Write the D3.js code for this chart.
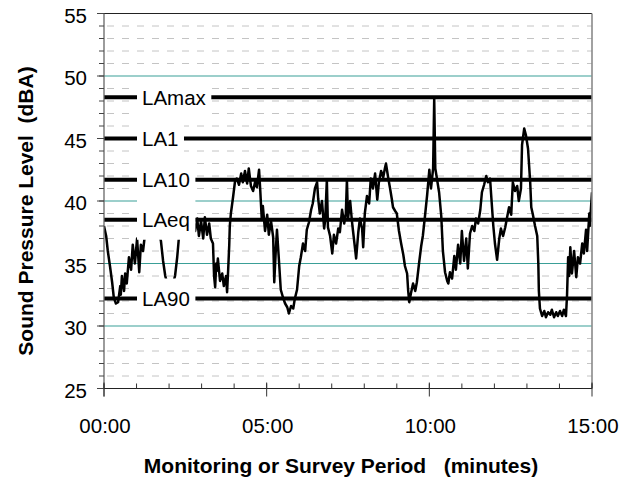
<!DOCTYPE html>
<html>
<head>
<meta charset="utf-8">
<script src="https://cdn.jsdelivr.net/npm/d3@7"></script>
<style>
  html, body { margin: 0; padding: 0; background: #fff; }
  svg { display: block; }
  text { font-family: "Liberation Sans", Arial, sans-serif; fill: #000; }
</style>
</head>
<body>
<svg id="chart" width="630" height="479"></svg>
<script>
// ---- data ----
const timeSeconds = [0,4,7,11,15,18,22,26,30,31,33,37,39,42,46,50,53,57,61,65,68,72,76,81,89,98,105,109,113,116,122,127,131,135,138,142,149,157,164,
168,172,175,179,183,186,190,194,197,201,203,205,207,208,210,214,218,221,225,227,229,231,232,234,238,242,
245,249,253,256,260,264,267,271,275,279,282,286,288,291,293,297,301,304,308,312,314,317,319,323,326,330,334,338,341,345,349,352,356,360,363,367,371,374,378,382,385,389,393,395,398,402,406,408,411,413,417,421,424,428,432,435,439,443,446,448,450,454,457,459,463,465,469,472,476,478,481,485,489,492,496,500,504,507,511,515,518,520,524,528,531,533,537,540,544,548,552,555,559,561,563,566,570,574,577,581,585,588,592,596,600,603,607,609,611,614,618,622,625,629,633,635,638,642,646,649,653,657,660,664,668,671,675,679,683,686,690,694,697,701,705,708,712,714,718,721,725,729,732,736,740,743,747,751,754,758,762,765,769,771,775,778,782,786,788,791,795,799,801,802,804,808,812,815,819,823,826,830,834,837,841,845,848,852,854,856,858,860,863,867,871,874,878,882,885,889,891,895,896,900];
const levelDBA = [38.0,37.2,36.0,34.8,33.5,32.3,31.8,31.9,33.2,32.5,34.0,32.8,34.2,33.4,35.5,34.5,36.5,35.0,37.0,34.3,36.5,36.0,37.5,38.5,38.8,38.0,36.8,35.2,34.0,33.5,33.2,33.4,34.0,35.5,37.0,38.5,38.8,39.0,38.3,
37.6,38.6,37.2,38.4,37.0,38.7,37.3,38.2,37.0,36.6,34.0,33.1,35.0,34.4,35.4,33.6,34.2,33.2,34.0,32.7,34.5,36.5,38.0,39.0,40.3,41.7,
41.8,41.3,42.2,41.5,42.4,41.4,42.6,41.2,40.8,41.6,41.1,42.5,41.0,38.5,39.6,37.6,38.9,37.3,38.4,37.1,33.5,36.2,37.7,35.0,32.9,32.3,31.8,31.5,31.0,31.6,31.4,32.2,32.9,34.8,35.5,36.6,36.0,37.7,38.3,39.3,39.8,41.0,41.5,40.2,39.0,40.0,37.8,38.5,41.7,37.9,37.2,35.8,37.3,36.6,37.8,37.5,39.3,38.2,39.0,41.7,38.6,40.0,38.5,37.7,36.2,35.4,37.5,38.6,37.8,36.3,39.0,40.4,39.8,41.8,41.0,42.2,40.1,41.5,42.4,41.9,42.6,43.0,41.9,40.9,40.1,39.5,39.2,39.0,37.6,36.6,35.7,34.8,34.2,32.8,31.9,32.6,33.4,32.8,33.5,35.0,36.4,37.2,38.8,40.5,42.5,41.0,42.6,48.2,42.6,41.8,40.7,38.8,36.0,34.3,33.6,33.4,34.3,33.8,35.6,34.5,36.5,35.0,37.6,35.2,37.0,34.6,37.4,38.0,37.6,38.6,38.2,39.3,40.7,41.3,42.0,41.5,41.8,40.5,38.0,36.6,35.3,37.0,37.8,37.2,37.9,38.6,39.5,38.9,41.5,40.8,41.2,40.0,41.0,44.5,45.8,45.3,44.2,41.5,39.5,38.9,38.0,37.2,35.0,32.8,31.4,30.8,31.2,30.7,31.1,30.9,31.3,30.7,31.1,30.8,31.2,30.8,31.3,30.8,32.5,35.5,34.0,36.3,34.2,36.0,33.9,35.5,35.0,36.6,35.8,37.7,36.0,39.0,38.0,40.7];

const statNames  = ["LAmax", "LA1", "LA10", "LAeq", "LA90"];
const statValues = [48.3, 45.0, 41.7, 38.5, 32.2];

const xMajorSeconds = [0, 300, 600, 900];
const xTickLabels   = ["00:00", "05:00", "10:00", "15:00"];
const xMinorSeconds = d3.range(0, 901, 60);
const yMajorTicks   = [25, 30, 35, 40, 45, 50, 55];
const yMinorTicks   = d3.range(25, 56, 1);
const yGridMajor    = [30, 35, 40, 45, 50];
const yGridMinor    = d3.range(26, 55, 1).filter(v => v % 5 !== 0);

const xTitle = "Monitoring or Survey Period   (minutes)";
const yTitle = "Sound Pressure Level  (dBA)";

// ---- layout ----
const svg = d3.select("#chart");
const L = 104, R = 592, T = 13.5, B = 388.5;
const x = d3.scaleLinear().domain([0, 900]).range([L, R]);
const y = d3.scaleLinear().domain([25, 55]).range([B, T]);

// minor dashed grid
svg.append("g").selectAll("line").data(yGridMinor).join("line")
  .attr("x1", L + 3).attr("x2", R)
  .attr("y1", d => y(d)).attr("y2", d => y(d))
  .attr("stroke", "#c4c4c4").attr("stroke-width", 1)
  .attr("stroke-dasharray", "7,8");

// major teal grid
svg.append("g").selectAll("line").data(yGridMajor).join("line")
  .attr("x1", L).attr("x2", R)
  .attr("y1", d => y(d)).attr("y2", d => y(d))
  .attr("stroke", "#3a9f97").attr("stroke-width", 1.2);

// clip
svg.append("clipPath").attr("id", "plotclip").append("rect")
  .attr("x", L).attr("y", T).attr("width", R - L).attr("height", B - T);

// trace
const pts = timeSeconds.map((t, i) => [t, levelDBA[i]]);
svg.append("path")
  .datum(pts)
  .attr("clip-path", "url(#plotclip)")
  .attr("fill", "none").attr("stroke", "#000").attr("stroke-width", 2.5)
  .attr("stroke-linejoin", "round")
  .attr("d", d3.line().x(d => x(d[0])).y(d => y(d[1])));

// stat lines
svg.append("g").selectAll("line").data(statValues).join("line")
  .attr("x1", L).attr("x2", R)
  .attr("y1", d => y(d)).attr("y2", d => y(d))
  .attr("stroke", "#000").attr("stroke-width", 4);

// stat labels with white boxes
const lab = svg.append("g").selectAll("g").data(statNames).join("g");
lab.each(function(name, i) {
  const g = d3.select(this);
  const yy = y(statValues[i]);
  const rect = g.append("rect").attr("fill", "#fff");
  const t = g.append("text").attr("x", 142).attr("y", yy + 7.5)
    .attr("font-size", 20.5).text(name);
  const w = t.node().getComputedTextLength();
  rect.attr("x", 137).attr("width", w + 10.5)
    .attr("y", yy - 20).attr("height", 40);
});

// frame
svg.append("line").attr("x1", L).attr("x2", R).attr("y1", T).attr("y2", T)
  .attr("stroke", "#222").attr("stroke-width", 1.2);
svg.append("line").attr("x1", R).attr("x2", R).attr("y1", T).attr("y2", B)
  .attr("stroke", "#8a8a8a").attr("stroke-width", 1.6);
svg.append("line").attr("x1", L).attr("x2", L).attr("y1", T).attr("y2", B + 8)
  .attr("stroke", "#666").attr("stroke-width", 1.3);
svg.append("line").attr("x1", L).attr("x2", R).attr("y1", B).attr("y2", B)
  .attr("stroke", "#222").attr("stroke-width", 1.2);

// y ticks
svg.append("g").selectAll("line").data(yMinorTicks).join("line")
  .attr("x1", L - 5).attr("x2", L)
  .attr("y1", d => y(d)).attr("y2", d => y(d))
  .attr("stroke", "#444").attr("stroke-width", 1);
svg.append("g").selectAll("line").data(yMajorTicks).join("line")
  .attr("x1", L - 7).attr("x2", L)
  .attr("y1", d => y(d)).attr("y2", d => y(d))
  .attr("stroke", "#444").attr("stroke-width", 1);
svg.append("g").selectAll("text").data(yMajorTicks).join("text")
  .attr("x", 87).attr("y", d => y(d) + 9)
  .attr("text-anchor", "end").attr("font-size", 20.5)
  .text(d => d);

// x ticks
svg.append("g").selectAll("line").data(xMinorSeconds).join("line")
  .attr("x1", d => x(d)).attr("x2", d => x(d))
  .attr("y1", B - 5).attr("y2", B)
  .attr("stroke", "#333").attr("stroke-width", 1);
svg.append("g").selectAll("line").data(xMajorSeconds).join("line")
  .attr("x1", d => x(d)).attr("x2", d => x(d))
  .attr("y1", B - 6).attr("y2", B + 8)
  .attr("stroke", "#333").attr("stroke-width", 1);
svg.append("g").selectAll("text").data(xMajorSeconds).join("text")
  .attr("x", d => x(d) + 1).attr("y", 433)
  .attr("text-anchor", "middle").attr("font-size", 20.5)
  .text((d, i) => xTickLabels[i]);

// titles
svg.append("text").attr("x", 341).attr("y", 473)
  .attr("text-anchor", "middle").attr("font-size", 21).attr("font-weight", "bold")
  .style("white-space", "pre").text(xTitle);
svg.append("text").attr("transform", "translate(32.5,211) rotate(-90)")
  .attr("text-anchor", "middle").attr("font-size", 21).attr("font-weight", "bold")
  .style("white-space", "pre").text(yTitle);
</script>
</body>
</html>
